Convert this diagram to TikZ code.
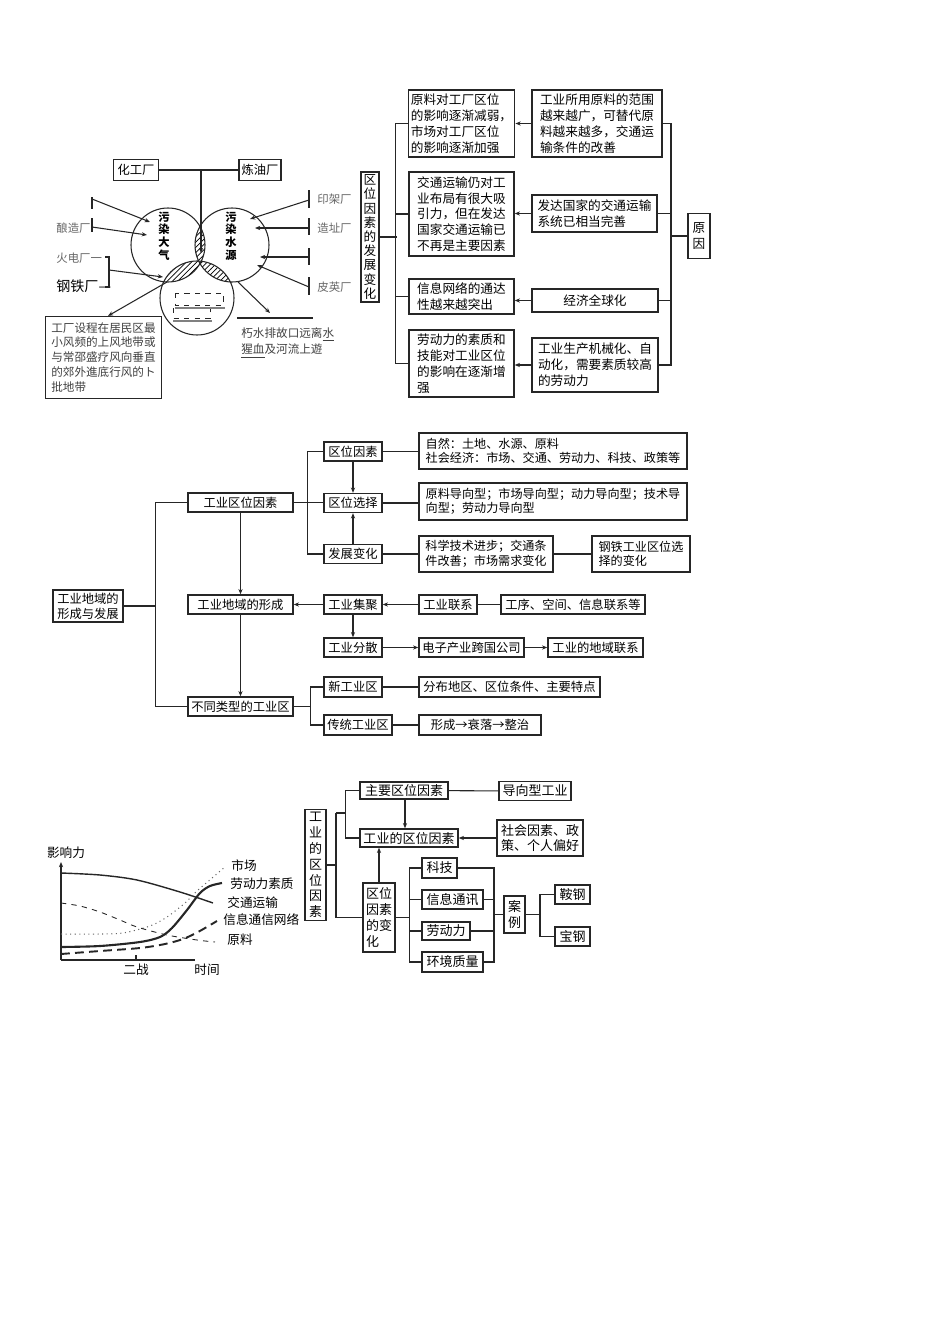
\documentclass[tikz,border=0pt]{standalone}
\usepackage{fontspec}
\setmainfont{Noto Sans CJK SC}
\usetikzlibrary{arrows.meta, patterns}

\begin{document}
\begin{tikzpicture}[x=0.02cm, y=-0.02cm, >={Stealth[length=3pt,width=2.4pt]}, line width=0.6pt, draw=black!85,
      every node/.style={font=\fontsize{7}{8.7}\selectfont},
      bx/.style={draw=black!85, line width=0.8pt, inner sep=1.5pt, align=center},
      tb/.style={bx, align=left, font=\fontsize{7.2}{9}\selectfont},
      wh/.style 2 args={minimum width=#1*0.02cm, minimum height=#2*0.02cm},
      lbl/.style={text=black!60, font=\fontsize{6.5}{8}\selectfont},
      vtx/.style={align=center, font=\fontsize{6.4}{7.2}\selectfont\bfseries},
      hatch/.style={pattern=north east lines}]

    \useasboundingbox (0,0) rectangle (950,1318);

    % === pollution circles ===
    \node[bx, wh={45}{21}] (hg) at (136,170) {化工厂};
    \node[bx, wh={42}{21}] (ly) at (260,170) {炼油厂};
    \coordinate (cl) at (168,245);
    \coordinate (cr) at (232,245);
    \coordinate (cb) at (197,298);
    \coordinate (hj) at (201,170);
    \begin{scope}
      \clip (cl) circle (37);
      \fill[hatch] (cr) circle (37);
      \fill[hatch] (cb) circle (37);
    \end{scope}
    \begin{scope}
      \clip (cr) circle (37);
      \fill[hatch] (cb) circle (37);
    \end{scope}
    \draw (cl) circle (37) (cr) circle (37) (cb) circle (37);
    \node[vtx] (dq) at (164,236) {污\\染\\大\\气};
    \node[vtx] (sy) at (231,236) {污\\染\\水\\源};
    \draw (hg) -- (ly);
    \draw[->] (hj) -- (201,253);
    \draw[dashed, line width=0.5pt] (175,293) rectangle (223,305) (173,308) rectangle (210,318);
    \draw[black!50] (175,308) -- (225,308) (173,321) -- (212,321);

    % left factories
    \node[lbl, anchor=west] (nz) at (50,228) {酿造厂};
    \node[lbl, anchor=west] (hd) at (50,258) {火电厂一};
    \node[anchor=west, font=\fontsize{8}{9}\selectfont] (gt) at (50,286) {钢铁厂—};
    \draw (92,197) -- (92,209) (92,218) -- (92,232);
    \draw (105,257) -- (109,257) -- (109,287) -- (105,287);
    \draw[->] (92,199) -- (150,222);
    \draw[->] (92,227) -- (147,235);
    \draw[->] (109,270) -- (163,277);

    % right factories
    \node[lbl, anchor=west] (yj) at (311,199) {印架厂};
    \node[lbl, anchor=west] (zz) at (311,228) {造址厂};
    \node[lbl, anchor=west] (py) at (311,287) {皮英厂};
    \draw (309,190) -- (309,208) (309,218) -- (309,235) (309,248) -- (309,265) (309,277) -- (309,295);
    \draw[->] (309,200) -- (250,219);
    \draw[->] (309,228) -- (255,228);
    \draw[->] (309,257) -- (260,257);
    \draw[->] (309,287) -- (257,265);

    % measures
    \node[draw, align=left, text=black!75, wh={113}{81}, font=\fontsize{6.6}{8.5}\selectfont] (cs) at (103.5,357.5)
      {工厂设程在居民区最\\小风频的上风地带或\\与常邵盛疗风向垂直\\的郊外進底行风的ト\\批地带};
    \draw[->] (167,282) -- (cs.north -| 108,0);
    \coordinate (ws) at (237,318);
    \draw (ws) -- (313,318);
    \node[anchor=north west, align=left, text=black!75, font=\fontsize{6.6}{9.5}\selectfont] (pk) at (235,321)
      {朽水排故口远离\underline{水}\\\underline{猩血}及河流上遊};
    \draw[->] (238,282) -- (270,313);

    % === development of location factors ===
    \node[bx, wh={18}{130}, font=\fontsize{7.2}{8.1}\selectfont] (qw) at (370,237) {区\\位\\因\\素\\的\\发\\展\\变\\化};
    \node[tb, wh={105}{67}] (a1) at (461.5,123.5) {原料对工厂区位\\的影响逐渐减弱，\\市场对工厂区位\\的影响逐渐加强};
    \node[tb, wh={105}{84}] (a2) at (461.5,214) {交通运输仍对工\\业布局有很大吸\\引力，但在发达\\国家交通运输已\\不再是主要因素};
    \node[tb, wh={105}{35}] (a3) at (461.5,296.5) {信息网络的通达\\性越来越突出};
    \node[tb, wh={105}{67}] (a4) at (461.5,363.5) {劳动力的素质和\\技能对工业区位\\的影响在逐渐增\\强};
    \node[tb, wh={130}{67}] (b1) at (597,123.5) {工业所用原料的范围\\越来越广，可替代原\\料越来越多，交通运\\输条件的改善};
    \node[tb, wh={125}{37}] (b2) at (594.5,213.5) {发达国家的交通运输\\系统已相当完善};
    \node[bx, wh={126}{23}, font=\fontsize{7.2}{9}\selectfont] (b3) at (595,300.5) {经济全球化};
    \node[tb, wh={126}{54}] (b4) at (595,365) {工业生产机械化、自\\动化，需要素质较高\\的劳动力};
    \node[bx, wh={22}{45}, font=\fontsize{7.2}{9}\selectfont] (yy) at (699,236) {原\\因};
    \coordinate (rs) at (671,236);
    \draw (qw.east) -- (397,237);
    \draw (a1.west) -- ++(-12,0) |- (a4.west);
    \draw (a2.west) -- ++(-12,0) (a3.west) -- ++(-12,0);
    \draw (b1.east) -| (rs) (b4.east) -| (rs);
    \draw (b2.east) -- (b2.east -| rs) (b3.east) -- (b3.east -| rs);
    \draw (rs) -- (yy.west);
    \draw[->] (b1.west) -- (a1.east);
    \draw[->] (b2.west) -- (b2.west -| a2.east);
    \draw[->] (b3.west) -- (b3.west -| a3.east);
    \draw[->] (b4.west) -- (b4.west -| a4.east);

    % === industrial regions ===
    \node[bx, wh={70}{27}] (root) at (88,606) {工业地域的\\形成与发展};
    \node[bx, wh={105}{19}] (f1) at (240.5,502.5) {工业区位因素};
    \node[bx, wh={105}{19}] (f2) at (240.5,604.5) {工业地域的形成};
    \node[bx, wh={105}{19}] (f3) at (240.5,706.5) {不同类型的工业区};
    \coordinate (sp1) at (156,606);
    \draw (root.east) -- (sp1);
    \draw (f1.west) -- ++(-32,0) |- (f3.west);
    \draw[->] (f1) -- (f2);
    \draw[->] (f2) -- (f3);

    \node[bx, wh={58}{19}] (g1) at (353,451.5) {区位因素};
    \node[bx, wh={58}{19}] (g2) at (353,503) {区位选择};
    \node[bx, wh={58}{19}] (g3) at (353,554) {发展变化};
    \draw (f1.east) -- (f1.east -| g2.west);
    \draw (g1.west) -- ++(-16,0) |- (g3.west);
    \draw[->] (g1) -- (g2);
    \draw[->] (g3) -- (g2);
    \node[bx, align=left, wh={268}{36}, font=\fontsize{6.9}{8.2}\selectfont] (h1) at (553,451) {自然：土地、水源、原料\\社会经济：市场、交通、劳动力、科技、政策等};
    \node[bx, align=left, wh={268}{37}, font=\fontsize{6.9}{8.2}\selectfont] (h2) at (553,501.5) {原料导向型；市场导向型；动力导向型；技术导\\向型；劳动力导向型};
    \node[bx, align=left, wh={134}{36}, font=\fontsize{6.9}{8.2}\selectfont] (h3) at (486,554) {科学技术进步；交通条\\件改善；市场需求变化};
    \node[bx, align=left, wh={98}{36}, font=\fontsize{6.9}{8.2}\selectfont] (h4) at (641,554) {钢铁工业区位选\\择的变化};
    \draw (g1) -- (h1.west |- g1);
    \draw (g2) -- (h2.west |- g2);
    \draw (g3) -- (h3);
    \draw (h3) -- (h4);

    \node[bx, wh={58}{19}] (k1) at (353,604.5) {工业集聚};
    \node[bx, wh={58}{19}] (k2) at (448,604.5) {工业联系};
    \node[bx, wh={144}{19}] (k3) at (573,604.5) {工序、空间、信息联系等};
    \node[bx, wh={58}{19}] (k4) at (353,647.5) {工业分散};
    \node[bx, wh={105}{19}] (k5) at (471.5,647.5) {电子产业跨国公司};
    \node[bx, wh={95}{19}] (k6) at (595.5,647.5) {工业的地域联系};
    \draw[->] (k1) -- (f2);
    \draw[->] (k2) -- (k1);
    \draw (k3) -- (k2);
    \draw[->] (k1) -- (k4);
    \draw[->] (k4) -- (k5);
    \draw[->] (k5) -- (k6);

    \node[bx, wh={58}{20}] (m1) at (353,687) {新工业区};
    \node[bx, wh={68}{20}] (m2) at (358,725) {传统工业区};
    \node[bx, wh={181}{20}] (n1) at (509.5,687) {分布地区、区位条件、主要特点};
    \node[bx, wh={122}{20}] (n2) at (480,725) {形成→衰落→整治};
    \coordinate (mj) at (311,706.5);
    \draw (f3.east) -- (mj);
    \draw (m1.west) -- ++(-13,0) |- (m2.west);
    \draw (m1) -- (n1);
    \draw (m2) -- (n2);

    % === influence curves ===
    \coordinate (o) at (61,960);
    \draw[->] (o) -- (61,862);
    \draw (o) -- (195,960);
    \draw (136,960) -- (136,955);
    \node[font=\fontsize{7.2}{8}\selectfont] (yl) at (66,853) {影响力};
    \node[font=\fontsize{7.2}{8}\selectfont] (ez) at (136,970) {二战};
    \node[font=\fontsize{7.2}{8}\selectfont] (sj) at (207,970) {时间};
    \draw[line width=0.8pt] plot[smooth] coordinates {(61,873) (100,875) (137,880) (180,892) (213,903)};
    \draw[dotted, black!60, line width=0.6pt] plot[smooth] coordinates {(61,934) (100,934) (123,933) (150,926) (167,917) (185,903) (197,891) (212,878) (225,867)};
    \draw[line width=1.2pt] plot[smooth] coordinates {(61,947) (100,946) (140,942) (160,937) (172,928) (187,910) (200,893) (210,886) (222,883)};
    \draw[dashed, line width=0.5pt] plot[smooth] coordinates {(61,903) (80,906) (100,912) (120,920) (137,927) (167,935) (197,940) (215,942)};
    \draw[line width=1.1pt, dash pattern=on 5pt off 3pt] plot[smooth] coordinates {(61,954) (100,951) (140,948) (165,944) (183,939) (198,932) (217,921)};
    \node[anchor=west, font=\fontsize{7.2}{8}\selectfont] (sc) at (225,866) {市场};
    \node[anchor=west, font=\fontsize{7.2}{8}\selectfont] (ld) at (224,884) {劳动力素质};
    \node[anchor=west, font=\fontsize{7.2}{8}\selectfont] (jt) at (221,903) {交通运输};
    \node[anchor=west, font=\fontsize{7.2}{8}\selectfont] (xx) at (217,920) {信息通信网络};
    \node[anchor=west, font=\fontsize{7.2}{8}\selectfont] (yl2) at (221,940) {原料};

    % === location factors ===
    \node[bx, wh={21}{96}, font=\fontsize{7.4}{9}\selectfont] (p0) at (315.5,865) {工\\业\\的\\区\\位\\因\\素};
    \node[bx, wh={88}{17}, font=\fontsize{7.4}{9}\selectfont] (p1) at (404,790.5) {主要区位因素};
    \node[bx, wh={72}{19}, font=\fontsize{7.4}{9}\selectfont] (p2) at (535,791) {导向型工业};
    \node[bx, wh={98}{18}, font=\fontsize{7.4}{9}\selectfont] (p3) at (409,838) {工业的区位因素};
    \node[bx, wh={86}{36}, font=\fontsize{7.4}{9}\selectfont] (p4) at (540,838) {社会因素、政\\策、个人偏好};
    \node[bx, align=left, wh={32}{69}, font=\fontsize{7.4}{9.2}\selectfont] (p5) at (379,917.5) {区位\\因素\\的变\\化};
    \node[bx, wh={35}{20}, font=\fontsize{7.4}{9}\selectfont] (q1) at (439.5,868) {科技};
    \node[bx, wh={61}{19}, font=\fontsize{7.4}{9}\selectfont] (q2) at (452.5,899.5) {信息通讯};
    \node[bx, wh={48}{18}, font=\fontsize{7.4}{9}\selectfont] (q3) at (446,931) {劳动力};
    \node[bx, wh={61}{20}, font=\fontsize{7.4}{9}\selectfont] (q4) at (452.5,962) {环境质量};
    \node[bx, wh={21}{37}, font=\fontsize{7.4}{9}\selectfont] (r0) at (514.5,914.5) {案\\例};
    \node[bx, wh={35}{19}, font=\fontsize{7.4}{9}\selectfont] (r1) at (572.5,894.5) {鞍钢};
    \node[bx, wh={35}{19}, font=\fontsize{7.4}{9}\selectfont] (r2) at (572.5,936.5) {宝钢};
    \coordinate (s5) at (336,813);
    \coordinate (s6) at (410,917.5);
    \coordinate (s7) at (494,914.5);
    \coordinate (s8) at (540,914.5);
    \draw (p0.east) -- (p0.east -| s5);
    \draw (s5) -- ++(10,0);
    \draw (s5) |- (p5.west);
    \draw (p1.west) -- ++(-14,0) |- (p3.west);
    \draw (p1) -- (p2);
    \draw[->] (p1.south -| 405,0) -- (p3.north -| 405,0);
    \draw[->] (p4) -- (p3);
    \draw[->] (p5.north) -- (p5.north |- p3.south);
    \draw (p5.east) -- (s6);
    \draw (q1.west) -- ++(-12,0) |- (q4.west);
    \draw (q2.west) -- ++(-12,0) (q3.west) -- ++(-12,0);
    \draw (q1.east) -| (s7) (q4.east) -| (s7);
    \draw (q2.east) -- (q2.east -| s7) (q3.east) -- (q3.east -| s7);
    \draw (s7) -- (r0.west);
    \draw (r0.east) -- (s8);
    \draw (r1.west) -| (s8) (r2.west) -| (s8);

\end{tikzpicture}
\end{document}
